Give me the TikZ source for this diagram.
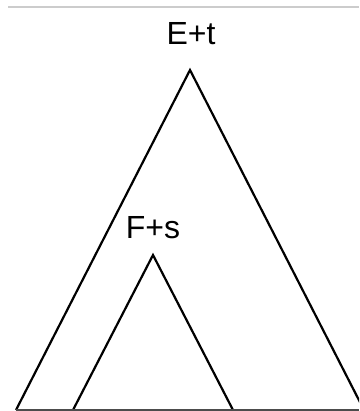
\documentclass[tikz,border=0pt]{standalone}
\usepackage{fontspec}
\setmainfont{Liberation Sans}
\begin{document}
\begin{tikzpicture}[x=1pt,y=-1pt,
  edge/.style={draw=black,line width=2.2pt,line join=miter},
  lbl/.style={font=\fontsize{32}{38}\selectfont,inner sep=0pt,anchor=base}]
\useasboundingbox (0,0) rectangle (359,411);
\clip (0,0) rectangle (359,411);
% top rule
\draw[draw=black!20,line width=2pt] (8,7) -- (359,7);
% coordinates
\coordinate (A) at (190,70);
\coordinate (AL) at (16,410);
\coordinate (AR) at (364,410);
\coordinate (B) at (153,255);
\coordinate (BL) at (73,410);
\coordinate (BR) at (233,410);
\coordinate (baseL) at (16,410);
\coordinate (baseR) at (359,410);
% triangles
\draw[edge] (AL) -- (A) -- (AR);
\draw[edge] (BL) -- (B) -- (BR);
\draw[draw=black!70,line width=2pt] (baseL) -- (baseR);
% labels
\node[lbl] (Et) at (191,45) {E+t};
\node[lbl] (Fs) at (153,238) {F+s};
\end{tikzpicture}
\end{document}
